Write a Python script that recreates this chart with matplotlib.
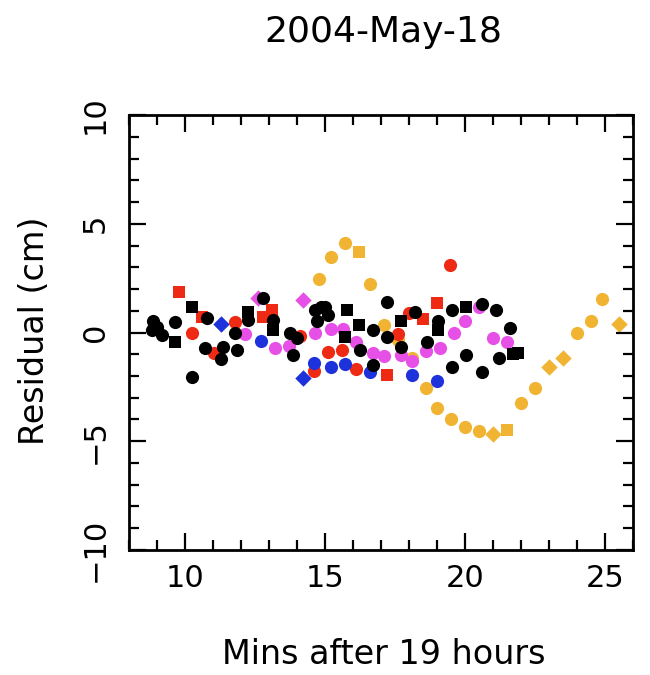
# Residuals plot, PGPLOT look
import matplotlib
matplotlib.use('Agg')
import matplotlib.pyplot as plt
from matplotlib.ticker import MultipleLocator

# Data (minutes after 19 h, residual in cm)
black_dot_x = [8.85, 8.82, 9.0, 9.18, 9.65, 10.25, 10.8, 10.7, 11.35, 11.3, 11.8, 11.85, 12.25,
               12.8, 13.15, 13.75, 14.0, 13.85, 14.65, 14.85, 14.7, 15.0, 15.1, 16.7, 17.2, 17.2,
               18.2, 17.7, 16.25, 16.7, 19.05, 19.55, 18.65, 19.55, 20.6, 21.1, 21.6, 20.05,
               20.6, 21.2]
black_dot_y = [0.55, 0.1, 0.25, -0.1, 0.48, -2.05, 0.67, -0.7, -0.65, -1.2, 0.0, -0.8, 0.57,
               1.6, 0.57, 0.0, -0.25, -1.05, 1.05, 1.15, 0.55, 1.15, 0.8, 0.1, 1.4, -0.2,
               0.95, -0.65, -0.8, -1.5, 0.55, 1.05, -0.45, -1.6, 1.3, 1.05, 0.2, -1.05,
               -1.8, -1.15]
black_sq_x = [9.65, 10.25, 12.25, 13.15, 15.8, 16.2, 15.7, 17.7, 19.05, 20.05, 21.7, 21.9]
black_sq_y = [-0.45, 1.15, 0.95, 0.1, 1.05, 0.35, -0.2, 0.55, 0.1, 1.15, -1.0, -0.95]

red_dot_x = [10.25, 11.05, 11.8, 14.1, 14.6, 15.1, 15.6, 16.1, 17.6, 18.0, 19.45]
red_dot_y = [0.0, -0.95, 0.5, -0.15, -1.75, -0.9, -0.8, -1.7, -0.05, 0.9, 3.1]
red_sq_x = [9.8, 10.6, 12.8, 13.1, 17.2, 18.5, 19.0]
red_sq_y = [1.85, 0.7, 0.7, 1.05, -1.95, 0.6, 1.35]

blue_dot_x = [12.7, 14.6, 15.2, 15.7, 16.6, 18.1, 19.0]
blue_dot_y = [-0.4, -1.4, -1.6, -1.45, -1.8, -1.95, -2.25]
blue_dia_x = [11.3, 14.2]
blue_dia_y = [0.4, -2.1]

mag_dot_x = [12.15, 13.2, 13.7, 14.65, 15.2, 15.65, 16.1, 16.7, 17.1, 17.7, 18.1, 18.6,
             19.1, 19.6, 20.0, 20.5, 21.0, 21.5]
mag_dot_y = [-0.05, -0.7, -0.6, 0.0, 0.15, 0.15, -0.45, -0.95, -1.1, -1.05, -1.3, -0.85,
             -0.7, 0.0, 0.55, 1.15, -0.25, -0.45]
mag_dia_x = [12.6, 14.2]
mag_dia_y = [1.6, 1.5]

orange_dot_x = [14.8, 15.2, 15.7, 16.6, 17.1, 17.6, 18.1, 18.6, 19.0, 19.5, 20.0, 20.5,
                22.0, 22.5, 24.0, 24.5, 24.9]
orange_dot_y = [2.45, 3.45, 4.1, 2.25, 0.35, -0.35, -1.15, -2.55, -3.45, -4.0, -4.35, -4.55,
                -3.25, -2.55, 0.0, 0.55, 1.55]
orange_sq_x = [16.2, 21.5]
orange_sq_y = [3.7, -4.5]
orange_dia_x = [21.0, 23.0, 23.5, 25.5]
orange_dia_y = [-4.65, -1.6, -1.15, 0.4]

title = '2004-May-18'
x_label = 'Mins after 19 hours'
y_label = 'Residual (cm)'

c_black = '#000000'
c_red = '#ee2a14'
c_blue = '#1e32dc'
c_mag = '#e650e6'
c_orange = '#f0b432'

plt.rcParams['font.family'] = 'DejaVu Sans'

fig = plt.figure(figsize=(6.5, 6.75), dpi=100)
ax = fig.add_axes([0.1985, 0.1852, 0.7754, 0.6444])

ms_dot = 90
ms_sq = 68
ms_dia = 70

# orange wave first, then the rest on top
ax.scatter(orange_dot_x, orange_dot_y, s=ms_dot, marker='o', color=c_orange, linewidths=0)
ax.scatter(orange_sq_x, orange_sq_y, s=ms_sq, marker='s', color=c_orange, linewidths=0)
ax.scatter(orange_dia_x, orange_dia_y, s=ms_dia, marker='D', color=c_orange, linewidths=0)

ax.scatter(red_dot_x, red_dot_y, s=ms_dot, marker='o', color=c_red, linewidths=0)
ax.scatter(red_sq_x, red_sq_y, s=ms_sq, marker='s', color=c_red, linewidths=0)

ax.scatter(blue_dot_x, blue_dot_y, s=ms_dot, marker='o', color=c_blue, linewidths=0)
ax.scatter(blue_dia_x, blue_dia_y, s=ms_dia, marker='D', color=c_blue, linewidths=0)

ax.scatter(mag_dot_x, mag_dot_y, s=ms_dot, marker='o', color=c_mag, linewidths=0)
ax.scatter(mag_dia_x, mag_dia_y, s=ms_dia, marker='D', color=c_mag, linewidths=0)

ax.scatter(black_dot_x, black_dot_y, s=ms_dot, marker='o', color=c_black, linewidths=0)
ax.scatter(black_sq_x, black_sq_y, s=ms_sq, marker='s', color=c_black, linewidths=0)

ax.set_xlim(8, 26)
ax.set_ylim(-10, 10)
ax.xaxis.set_major_locator(MultipleLocator(5))
ax.xaxis.set_minor_locator(MultipleLocator(1))
ax.yaxis.set_major_locator(MultipleLocator(5))
ax.yaxis.set_minor_locator(MultipleLocator(1))

for s in ax.spines.values():
    s.set_linewidth(2.0)

ax.tick_params(which='both', direction='in', top=True, right=True, width=1.6)
ax.tick_params(which='major', length=12)
ax.tick_params(which='minor', length=7)
ax.tick_params(axis='x', labelsize=22, pad=10)
ax.tick_params(axis='y', labelsize=22, pad=14, labelrotation=90)
for lab in ax.get_yticklabels():
    lab.set_va('center')

fig.text(0.59, 1 - 32 / 675, title, ha='center', va='center', fontsize=26)
fig.text(0.59, 1 - 654 / 675, x_label, ha='center', va='center', fontsize=24)
fig.text(35 / 650, 0.51, y_label, ha='center', va='center', rotation=90, fontsize=24)

fig.savefig('out.png', dpi=100)
